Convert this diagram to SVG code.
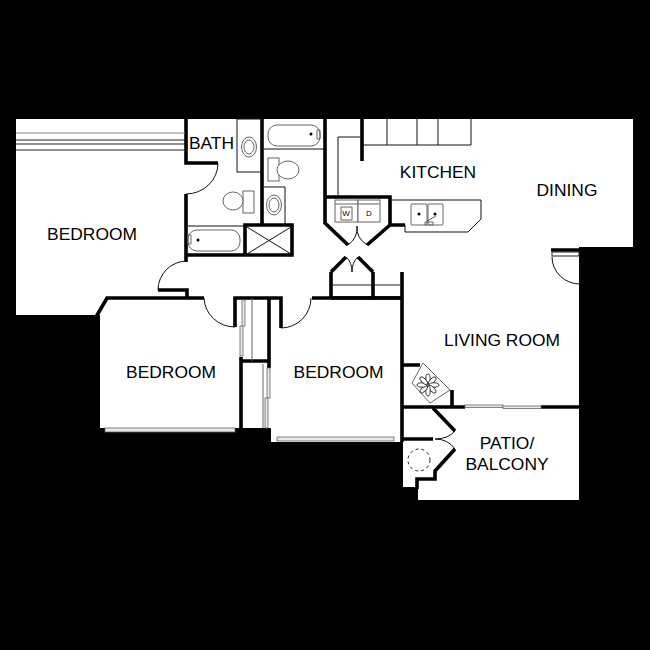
<svg xmlns="http://www.w3.org/2000/svg" width="650" height="650" viewBox="0 0 650 650">
<style>
.w{fill:none;stroke:#000;stroke-width:3.6;stroke-linecap:butt;stroke-linejoin:miter}
.t{fill:none;stroke:#111;stroke-width:1}
.g{fill:none;stroke:#666;stroke-width:1}
.h{fill:#fff;stroke:#555;stroke-width:.9}
.s{fill:#e8e8e8;stroke:#666;stroke-width:.8}
.p{fill:#fff;stroke:#222;stroke-width:.9}
text{font-family:"Liberation Sans",Arial,sans-serif;font-size:17.4px;fill:#000;text-anchor:middle}
</style>
<rect width="650" height="650" fill="#000"/>
<polygon fill="#fff" points="16,119 633,119 633,247 579,247 579,500 418,500 418,487 403,487 403,440 400,442 271,442 271,428 100,428 100,315 16,315"/>

<g id="walls">
<path class="w" d="M186,119V163H218M186,194V262M96,317L107,298H204M187,298V290H158M235,327V298H281V328M312,298H402M241,357V428M241,361H269M269,298V368"/>
<path class="w" d="M186,255H292V225H245V255M262,119V225M325,119V223L348,245M325,197H390V225L367,245M390,225H405M362,119V161"/>
<path class="w" d="M331,272L346,257M373,272L358,257M331,272V298M373,272V298M402,272V442M331,298H402M402,365H420M452,390V407M402,407H465M541,407H579"/>
<path class="w" d="M403,439H433M433,408L455,431M455,449L435,471V479H417V489M551,250H579"/>
</g>

<g id="connectors">
<path class="t" d="M218,163A32,31 0 0 1 186,194M158,290A29,29 0 0 1 187,261M204,298A31,30 0 0 0 235,327M311,298A30,30 0 0 1 281,328"/>
<path class="t" d="M348,245Q358,238 357,226Q356,238 367,245M346,257Q352,262 352,272Q352,262 358,257M455,431Q448,439 435,439Q448,439 455,449"/>
<path class="t" d="M552,257A28,27 0 0 0 580,284V256"/>
</g>

<g id="windows">
<path d="M16,133H185" stroke="#888" stroke-width="1.2"/>
<path d="M16,140H185M16,144H185M16,150H185" stroke="#222" stroke-width="1.2"/>
<rect class="s" x="105" y="428" width="130" height="4"/>
<rect class="s" x="277" y="437" width="117" height="4"/>
<rect class="s" x="465" y="405" width="38" height="2.5"/>
<rect class="s" x="503" y="406" width="38" height="2.5"/>
<rect x="552" y="252" width="27" height="4" fill="#fff" stroke="#222" stroke-width="1"/>
</g>

<g id="closets">
<path class="g" d="M252,298V361M263,364V428"/>
<path d="M331,285H402" stroke="#222" stroke-width="1"/>
<rect class="s" x="242" y="300" width="3" height="26"/>
<rect class="s" x="240" y="326" width="3" height="30"/>
<rect class="s" x="267" y="368" width="3" height="30"/>
<rect class="s" x="265" y="398" width="3" height="30"/>
</g>

<g id="bath">
<rect class="t" x="237" y="119" width="25" height="53"/>
<ellipse class="h" cx="249" cy="147" rx="7.500" ry="10"/>
<ellipse class="h" cx="249" cy="147" rx="5" ry="7"/>
<path class="t" d="M264,187H285V225M188,226H245M264,149H325"/>
<rect class="h" x="268" y="125" width="52" height="21" rx="9"/>
<circle cx="311" cy="134" r="1.500" fill="#000"/>
<path class="g" d="M317,130h3v9h-3z"/>
<rect class="h" x="188" y="230" width="52" height="21" rx="9"/>
<circle cx="198" cy="240" r="1.500" fill="#000"/>
<path class="g" d="M188,235h3v9h-3z"/>
<rect class="h" x="268" y="158" width="11" height="23"/>
<ellipse class="h" cx="288" cy="170" rx="11" ry="9"/>
<rect class="h" x="243" y="191" width="11" height="22"/>
<ellipse class="h" cx="233" cy="201" rx="10" ry="9"/>
<ellipse class="h" cx="274" cy="205" rx="7.500" ry="10"/>
<ellipse class="h" cx="274" cy="205" rx="5" ry="7"/>
<path d="M247,227L291,254M291,227L247,254" stroke="#111" stroke-width="1"/>
</g>

<g id="kitchen">
<path class="t" d="M362,145H471V119M387,119V145M417,119V145M438,119V145M362,137H338V195"/>
<path class="t" d="M391,200H481V219L468,232H405V225"/>
<rect class="h" x="411" y="204" width="16" height="21" rx="1"/>
<rect class="h" x="428" y="204" width="15" height="21" rx="1"/>
<circle cx="419" cy="214" r="1.500" fill="#000"/>
<circle cx="435" cy="214" r="1.500" fill="#000"/>
<path class="g" d="M427,221L436,216M425,222h8v3h-8z"/>
<rect class="h" x="335" y="200" width="23" height="22"/>
<rect class="h" x="358" y="200" width="22" height="22"/>
<path class="g" d="M335,204H380"/>
<rect class="h" x="341" y="207" width="11" height="13"/>
<text x="346" y="216" style="font-size:8px">W</text>
<text x="369" y="216" style="font-size:8px">D</text>
</g>

<g id="fireplace">
<polygon class="h" points="423,363 450,390 430,403 412,383"/>
<ellipse class="p" cx="428" cy="379" rx="2.200" ry="5" transform="rotate(0 428 385)"/>
<ellipse class="p" cx="428" cy="379" rx="2.200" ry="5" transform="rotate(45 428 385)"/>
<ellipse class="p" cx="428" cy="379" rx="2.200" ry="5" transform="rotate(90 428 385)"/>
<ellipse class="p" cx="428" cy="379" rx="2.200" ry="5" transform="rotate(135 428 385)"/>
<ellipse class="p" cx="428" cy="379" rx="2.200" ry="5" transform="rotate(180 428 385)"/>
<ellipse class="p" cx="428" cy="379" rx="2.200" ry="5" transform="rotate(225 428 385)"/>
<ellipse class="p" cx="428" cy="379" rx="2.200" ry="5" transform="rotate(270 428 385)"/>
<ellipse class="p" cx="428" cy="379" rx="2.200" ry="5" transform="rotate(315 428 385)"/>
<circle cx="419" cy="460" r="11" fill="none" stroke="#222" stroke-width="1" stroke-dasharray="3 3"/>
</g>

<g id="labels">
<text x="92" y="240">BEDROOM</text>
<text x="211.500" y="149">BATH</text>
<text x="438" y="178">KITCHEN</text>
<text x="567" y="196">DINING</text>
<text x="171" y="378">BEDROOM</text>
<text x="338.500" y="378">BEDROOM</text>
<text x="502" y="346">LIVING ROOM</text>
<text x="507" y="449">PATIO/</text>
<text x="507" y="470">BALCONY</text>
</g>
</svg>
